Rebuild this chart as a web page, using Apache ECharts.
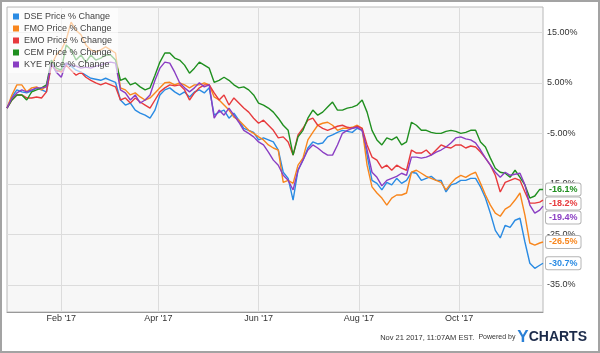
<!DOCTYPE html>
<html>
<head>
<meta charset="utf-8">
<script src="https://cdn.jsdelivr.net/npm/echarts@6/dist/echarts.min.js"></script>
<style>
  html, body { margin: 0; padding: 0; background: #fff; }
  #main { width: 600px; height: 353px; }
</style>
</head>
<body>
<div id="main"></div>
<script>
// price % change, sampled every 3 days
const dates = [
  '2016-12-30','2017-01-02','2017-01-05','2017-01-08','2017-01-11','2017-01-14','2017-01-17','2017-01-20','2017-01-23','2017-01-26',
  '2017-01-29','2017-02-01','2017-02-04','2017-02-07','2017-02-10','2017-02-13','2017-02-16','2017-02-19','2017-02-22','2017-02-25',
  '2017-02-28','2017-03-03','2017-03-06','2017-03-09','2017-03-12','2017-03-15','2017-03-18','2017-03-21','2017-03-24','2017-03-27',
  '2017-03-30','2017-04-02','2017-04-05','2017-04-08','2017-04-11','2017-04-14','2017-04-17','2017-04-20','2017-04-23','2017-04-26',
  '2017-04-29','2017-05-02','2017-05-05','2017-05-08','2017-05-11','2017-05-14','2017-05-17','2017-05-20','2017-05-23','2017-05-26',
  '2017-05-29','2017-06-01','2017-06-04','2017-06-07','2017-06-10','2017-06-13','2017-06-16','2017-06-19','2017-06-22','2017-06-25',
  '2017-06-28','2017-07-01','2017-07-04','2017-07-07','2017-07-10','2017-07-13','2017-07-16','2017-07-19','2017-07-22','2017-07-25',
  '2017-07-28','2017-07-31','2017-08-03','2017-08-06','2017-08-09','2017-08-12','2017-08-15','2017-08-18','2017-08-21','2017-08-24',
  '2017-08-27','2017-08-30','2017-09-02','2017-09-05','2017-09-08','2017-09-11','2017-09-14','2017-09-17','2017-09-20','2017-09-23',
  '2017-09-26','2017-09-29','2017-10-02','2017-10-05','2017-10-08','2017-10-11','2017-10-14','2017-10-17','2017-10-20','2017-10-23',
  '2017-10-26','2017-10-29','2017-11-01','2017-11-04','2017-11-07','2017-11-10','2017-11-13','2017-11-16','2017-11-19','2017-11-21'
];

const dse = [
  0, 2.2, 3.6, 3.2, 3.0, 3.4, 4.0, 3.6, 3.2, 8.9,
  7.1, 7.7, 8.9, 8.3, 7.5, 7.1, 6.5, 5.9, 5.7, 5.5,
  5.9, 5.5, 5.1, 1.6, 0.6, 1.0, -0.4, -1.0, -1.4, -2.0,
  -0.4, 2.6, 3.6, 4.0, 3.2, 2.6, 3.2, 2.2, 3.2, 3.6,
  3.0, 4.0, -1.4, -0.8, -0.4, -2.0, -1.0, -2.4, -4.0, -4.4,
  -4.8, -6.3, -5.9, -6.3, -6.7, -8.3, -12.7, -13.9, -18.2, -12.3,
  -10.3, -7.9, -6.7, -7.1, -6.9, -5.7, -5.3, -4.8, -4.4, -4.6,
  -4.8, -4.0, -4.4, -9.3, -14.3, -14.9, -16.2, -14.7, -15.2, -13.9,
  -14.9, -14.3, -12.7, -12.9, -14.3, -13.9, -13.5, -14.3, -14.3, -16.6,
  -15.2, -14.9, -14.3, -14.3, -13.9, -13.9, -15.6, -17.8, -20.8, -24.2,
  -25.7, -23.2, -23.6, -22.2, -21.8, -26.5, -30.7, -31.7, -31.1, -30.7
];

const fmo = [
  0, 2.6, 4.6, 4.6, 3.2, 4.0, 4.2, 3.6, 4.4, 8.5,
  10.5, 11.5, 13.5, 17.0, 15.4, 14.5, 12.5, 11.5, 11.1, 11.5,
  12.1, 11.5, 10.9, 4.0, 3.6, 2.6, 3.0, 2.2, 1.6, 2.0,
  3.0, 4.0, 5.0, 5.1, 4.6, 5.0, 4.6, 4.0, 4.6, 4.6,
  5.0, 4.6, 2.2, 1.6, 0.6, -0.4, -1.8, -2.4, -3.4, -4.4,
  -5.0, -5.7, -6.3, -7.3, -7.9, -8.3, -14.7, -14.3, -14.9, -11.3,
  -9.9, -6.3, -4.8, -3.4, -3.0, -2.8, -3.4, -4.4, -4.0, -4.0,
  -3.8, -3.4, -4.0, -11.3, -15.6, -16.8, -17.8, -19.2, -17.8, -17.2,
  -17.2, -16.8, -12.7, -12.3, -12.9, -13.5, -13.9, -14.3, -14.7, -16.2,
  -14.9, -13.9, -13.3, -13.7, -13.1, -12.7, -14.9, -17.2, -19.2, -20.8,
  -21.4, -20.0, -19.4, -18.2, -16.8, -21.2, -26.7, -27.1, -26.7, -26.5
];

const emo = [
  0, 1.6, 2.6, 2.6, 2.0, 2.0, 2.2, 2.0, 3.2, 8.5,
  7.5, 7.1, 8.5, 7.5, 6.5, 7.1, 6.1, 5.5, 5.0, 4.6,
  5.0, 4.6, 4.2, 1.6, 2.0, 1.0, 2.0, 1.2, 0.6, 0,
  1.6, 3.2, 4.0, 4.6, 4.4, 4.6, 3.6, 1.6, 3.0, 4.0,
  4.6, 4.6, 3.0, 1.6, 2.6, 0.6, 2.0, 1.0, 0, -0.8,
  -2.0, -3.0, -2.4, -3.4, -4.4, -5.9, -5.7, -6.7, -9.3, -5.3,
  -4.0, -2.4, -2.0, -3.4, -4.0, -4.4, -4.0, -3.6, -3.4, -3.8,
  -4.0, -3.6, -4.0, -7.3, -9.7, -10.3, -11.9, -11.3, -12.3, -11.3,
  -11.9, -12.3, -8.3, -8.9, -8.9, -8.3, -9.3, -8.3, -7.3, -7.7,
  -7.9, -7.3, -7.3, -7.9, -7.5, -7.7, -8.7, -9.9, -11.3, -13.3,
  -16.6, -14.7, -14.3, -13.9, -14.3, -16.6, -18.8, -18.8, -18.6, -18.2
];

const cem = [
  0, 1.6, 2.6, 2.6, 1.6, 3.2, 3.6, 4.0, 4.6, 9.5,
  7.9, 7.5, 12.5, 11.5, 9.5, 10.5, 9.1, 10.5, 9.5, 9.9,
  10.5, 10.5, 9.5, 5.5, 5.9, 4.6, 5.0, 4.2, 3.6, 4.0,
  6.5, 9.1, 10.9, 10.9, 9.9, 9.5, 8.5, 6.9, 7.9, 9.1,
  8.5, 7.9, 5.1, 5.5, 6.1, 5.5, 4.6, 4.0, 4.2, 3.6,
  2.6, 1.0, 0.6, 0, -0.8, -2.0, -3.4, -4.4, -9.3, -5.7,
  -4.4, -2.0, -0.4, -1.4, -0.8, 0.2, 1.2, -0.4, -0.4, 0,
  0.2, 0.6, 1.6, -0.8, -4.4, -6.3, -7.3, -5.9, -6.3, -5.7,
  -7.3, -6.7, -2.8, -3.4, -4.4, -4.4, -4.8, -5.0, -5.0, -4.6,
  -4.4, -4.6, -5.0, -4.8, -4.4, -4.4, -6.7, -7.7, -9.9, -11.9,
  -12.7, -12.9, -13.7, -12.3, -13.7, -15.2, -17.8, -17.4, -16.1, -16.1
];

const kye = [
  0, 2.0, 3.0, 3.6, 3.2, 3.6, 4.0, 4.0, 4.2, 8.9,
  7.1, 6.1, 8.9, 8.5, 8.3, 7.9, 8.1, 7.9, 8.3, 8.5,
  8.9, 9.1, 8.9, 3.6, 3.0, 1.6, 2.6, 1.0, 1.6, 2.6,
  5.5, 7.9, 9.1, 8.9, 7.1, 5.0, 4.0, 3.2, 4.0, 5.0,
  4.2, 4.6, -2.0, -0.4, -1.4, 0, -1.4, -2.8, -4.4, -5.0,
  -5.7, -6.7, -7.3, -8.7, -10.3, -11.3, -13.3, -14.3, -16.2, -12.3,
  -10.3, -8.3, -7.3, -7.9, -8.7, -9.3, -9.3, -7.3, -5.0, -4.4,
  -4.0, -3.8, -4.4, -8.3, -12.7, -13.7, -15.4, -14.3, -13.9, -13.5,
  -12.9, -13.3, -9.7, -9.7, -9.9, -9.7, -9.3, -8.7, -8.3, -7.7,
  -6.9, -5.9, -5.7, -6.1, -6.3, -6.9, -8.3, -9.9, -11.3, -12.7,
  -13.7, -12.7, -13.3, -13.1, -12.9, -15.2, -19.2, -20.8, -20.2, -19.4
];

const seriesNames = ['DSE Price % Change', 'FMO Price % Change', 'EMO Price % Change', 'CEM Price % Change', 'KYE Price % Change'];
const seriesValues = [dse, fmo, emo, cem, kye];
const colors = ['#2a8be3', '#f8861d', '#e73a3d', '#1f8f1f', '#8a3ec3'];

const xTickDates = ['2017-02-01', '2017-04-01', '2017-06-01', '2017-08-01', '2017-10-01'];
const xTickLabels = ["Feb '17", "Apr '17", "Jun '17", "Aug '17", "Oct '17"];
const yTickValues = [15, 5, -5, -15, -25, -35];
const yTickLabels = ['15.00%', '5.00%', '-5.00%', '-15.0%', '-25.0%', '-35.0%'];

const font = "'Liberation Sans', Arial, sans-serif";
const toTs = d => echarts.time.parse(d).getTime();
const dateTs = dates.map(toTs);
const xTickTs = xTickDates.map(toTs);

let myChart = echarts.init(document.getElementById('main'));

let series = seriesNames.map((name, i) => ({
    name: name,
    type: 'line',
    showSymbol: false,
    data: dateTs.map((t, j) => [t, seriesValues[i][j]]),
    color: colors[i],
    lineStyle: { width: 1.4 },
    endLabel: {
        show: true,
        distance: 3,
        formatter: p => p.value[1].toFixed(1) + '%',
        color: colors[i],
        fontWeight: 'bold',
        fontSize: 9,
        fontFamily: font,
        backgroundColor: '#fff',
        borderColor: '#b5b5b5',
        borderWidth: 1,
        borderRadius: 2,
        padding: [2, 3, 1, 3]
    },
    labelLayout: { moveOverlap: 'shiftY' }
}));

let option = {
    animation: false,
    textStyle: { fontFamily: font },
    grid: {
        left: 7, right: 57, top: 7, bottom: 41,
        show: true,
        backgroundColor: '#f7f7f7',
        borderColor: '#b8b8b8',
        borderWidth: 1
    },
    legend: {
        orient: 'vertical',
        left: 8,
        top: 8,
        padding: [4, 6, 4, 5],
        itemWidth: 6,
        itemHeight: 6,
        itemGap: 3,
        icon: 'rect',
        backgroundColor: 'rgba(255,255,255,0.6)',
        textStyle: { fontSize: 9, color: '#444', fontFamily: font },
        data: seriesNames
    },
    xAxis: {
        type: 'value',
        min: dateTs[0],
        max: dateTs[dateTs.length - 1],
        axisLine: { show: true, onZero: false, lineStyle: { color: '#999' } },
        axisTick: { show: false, customValues: xTickTs },
        axisLabel: {
            customValues: xTickTs,
            margin: 2,
            fontSize: 9,
            color: '#333',
            fontFamily: font,
            formatter: v => xTickLabels[xTickTs.indexOf(v)] || ''
        },
        splitLine: { show: true, lineStyle: { color: '#dcdcdc' } }
    },
    yAxis: {
        type: 'value',
        position: 'right',
        min: -40.35,
        max: 20,
        axisLine: { show: false },
        axisTick: { show: false, customValues: yTickValues },
        axisLabel: {
            customValues: yTickValues,
            margin: 4,
            fontSize: 9,
            color: '#333',
            fontFamily: font,
            formatter: v => yTickLabels[yTickValues.indexOf(v)] || ''
        },
        splitLine: { show: true, lineStyle: { color: '#dcdcdc' } }
    },
    title: {
        right: 8,
        bottom: 2,
        text: '{a|Nov 21 2017, 11:07AM EST.  }{b|Powered by }{y|Y}{c|CHARTS}',
        textStyle: {
            fontWeight: 'normal',
            rich: {
                a: { fontSize: 7.5, color: '#333', fontWeight: 'normal', fontFamily: font },
                b: { fontSize: 7, color: '#333', fontWeight: 'normal', fontFamily: font },
                y: { fontSize: 17, color: '#2a80d6', fontWeight: 'bold', fontFamily: font },
                c: { fontSize: 14, color: '#1c2b4a', fontWeight: 'bold', fontFamily: font }
            }
        }
    },
    graphic: [{
        type: 'rect',
        shape: { x: 1, y: 1, width: 598, height: 351 },
        style: { fill: 'none', stroke: '#a3a3a3', lineWidth: 2 },
        silent: true
    }],
    series: series
};

myChart.setOption(option);
</script>
</body>
</html>
